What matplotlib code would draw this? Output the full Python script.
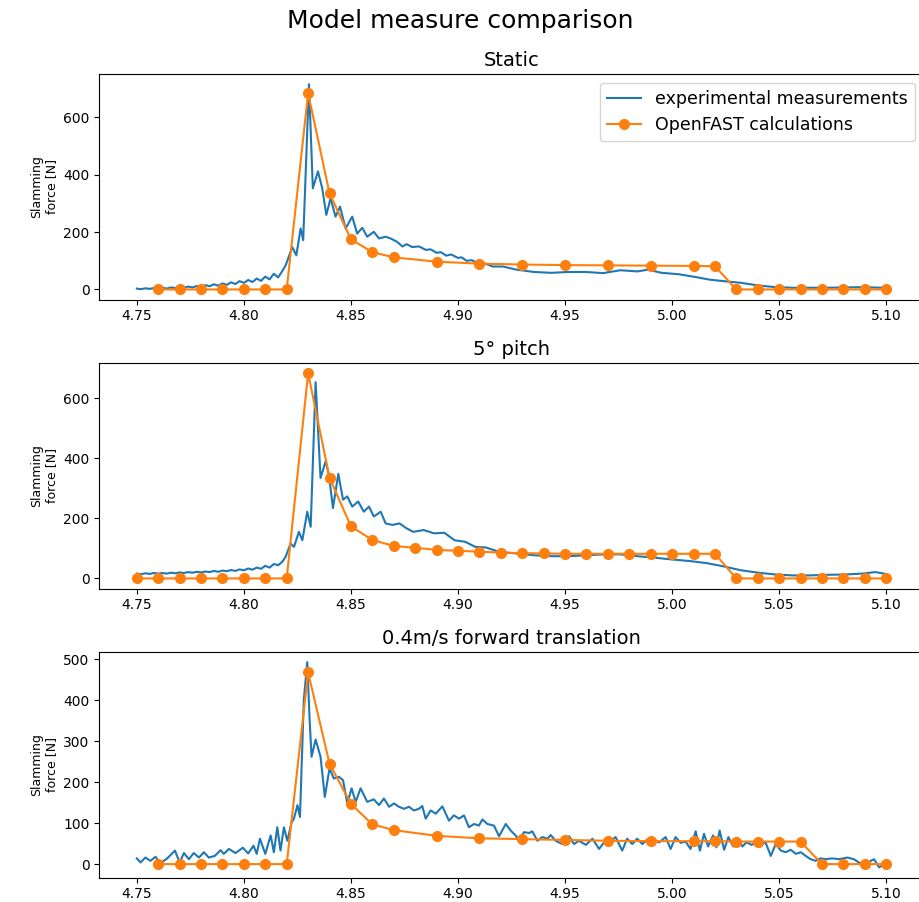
import matplotlib
matplotlib.use('Agg')
import matplotlib.pyplot as plt

# OpenFAST calculations (orange markers)
t_calc_static = [4.76, 4.77, 4.78, 4.79, 4.80, 4.81, 4.82, 4.83, 4.84, 4.85, 4.86, 4.87,
                 4.89, 4.91, 4.93, 4.95, 4.97, 4.99, 5.01, 5.02, 5.03, 5.04, 5.05, 5.06,
                 5.07, 5.08, 5.09, 5.10]
f_calc_static = [0, 0, 0, 0, 0, 0, 0, 685, 335, 175, 130, 112,
                 97, 90, 87, 85, 84, 83, 82, 81, 0, 0, 0, 0,
                 0, 0, 0, 0]

t_calc_pitch = [4.75, 4.76, 4.77, 4.78, 4.79, 4.80, 4.81, 4.82, 4.83, 4.84, 4.85, 4.86,
                4.87, 4.88, 4.89, 4.90, 4.91, 4.92, 4.93, 4.94, 4.95, 4.96, 4.97, 4.98,
                4.99, 5.00, 5.01, 5.02, 5.03, 5.04, 5.05, 5.06, 5.07, 5.08, 5.09, 5.10]
f_calc_pitch = [0, 0, 0, 0, 0, 0, 0, 0, 683, 335, 173, 128,
                108, 102, 95, 92, 89, 86, 84, 83, 82, 82, 82, 82,
                82, 82, 82, 82, 0, 0, 0, 0, 0, 0, 0, 0]

t_calc_fwd = [4.76, 4.77, 4.78, 4.79, 4.80, 4.81, 4.82, 4.83, 4.84, 4.85, 4.86, 4.87,
              4.89, 4.91, 4.93, 4.95, 4.97, 4.99, 5.01, 5.02, 5.03, 5.04, 5.05, 5.06,
              5.07, 5.08, 5.09, 5.10]
f_calc_fwd = [0, 0, 0, 0, 0, 0, 0, 468, 245, 147, 97, 83,
              69, 63, 61, 59, 57, 56, 56, 56, 55, 55, 55, 55,
              0, 0, 0, 0]

t_exp_static = [4.750, 4.752, 4.754, 4.756, 4.758, 4.760, 4.762, 4.764, 4.766, 4.768,
                4.770, 4.772, 4.774, 4.776, 4.778, 4.780, 4.782, 4.784, 4.786, 4.788,
                4.790, 4.792, 4.794, 4.796, 4.798, 4.800, 4.802, 4.804, 4.806, 4.808,
                4.810, 4.812, 4.814, 4.816, 4.818, 4.8195, 4.8226, 4.8245, 4.8265, 4.8277,
                4.8304, 4.8322, 4.8346, 4.8366, 4.8385, 4.8405, 4.8428, 4.8449, 4.8475, 4.8506,
                4.8529, 4.8553, 4.8576, 4.8607, 4.8631, 4.8662, 4.8685, 4.8716, 4.8740, 4.8760,
                4.8786, 4.8818, 4.8850, 4.8872, 4.8900, 4.8920, 4.8945, 4.8968, 4.9000, 4.9017,
                4.9040, 4.9065, 4.9090, 4.9113, 4.9162, 4.9210, 4.9274, 4.9355, 4.9436, 4.9516,
                4.9597, 4.9677, 4.9758, 4.9838, 4.9887, 4.9951, 5.0032, 5.0112, 5.0177, 5.0241,
                5.0322, 5.0402, 5.0483, 5.0564, 5.0725, 5.0886, 5.0983, 5.1000]
f_exp_static = [3, 1, 4, 2, 5, 3, 6, 3, 7, 5,
                9, 6, 10, 7, 12, 9, 15, 11, 18, 13,
                21, 16, 25, 19, 29, 23, 33, 26, 38, 30,
                45, 35, 55, 42, 65, 84, 148, 119, 213, 172,
                716, 353, 412, 353, 260, 318, 254, 289, 213, 254,
                195, 215, 184, 201, 178, 184, 178, 166, 150, 158,
                148, 150, 138, 140, 128, 130, 118, 122, 110, 112,
                100, 102, 92, 94, 80, 80, 69, 61, 58, 61,
                61, 57, 67, 63, 69, 58, 53, 43, 34, 29,
                23, 14, 8, 6, 6, 8, 6, 5]

t_exp_pitch = [4.750, 4.752, 4.754, 4.756, 4.758, 4.760, 4.762, 4.764, 4.766, 4.768,
               4.770, 4.772, 4.774, 4.776, 4.778, 4.780, 4.782, 4.784, 4.786, 4.788,
               4.790, 4.792, 4.794, 4.796, 4.798, 4.800, 4.802, 4.804, 4.806, 4.808,
               4.810, 4.812, 4.814, 4.816, 4.818, 4.8195, 4.8218, 4.8234, 4.8257, 4.8273,
               4.8296, 4.8312, 4.8335, 4.8358, 4.8382, 4.8397, 4.8416, 4.8441, 4.8463, 4.8483,
               4.8506, 4.8534, 4.8560, 4.8584, 4.8607, 4.8639, 4.8662, 4.8694, 4.8727, 4.8759,
               4.8791, 4.8840, 4.8888, 4.8936, 4.8984, 4.9033, 4.9081, 4.9130, 4.9194, 4.9274,
               4.9355, 4.9436, 4.9516, 4.9597, 4.9677, 4.9758, 4.9838, 4.9919, 5.0000, 5.0080,
               5.0161, 5.0241, 5.0322, 5.0402, 5.0483, 5.0564, 5.0644, 5.0725, 5.0805, 5.0886,
               5.0950, 5.0990]
f_exp_pitch = [16, 14, 17, 15, 18, 16, 18, 16, 19, 17,
               20, 18, 21, 19, 22, 20, 23, 21, 25, 22,
               26, 24, 28, 25, 30, 27, 33, 29, 36, 32,
               42, 36, 48, 44, 56, 72, 116, 105, 155, 127,
               222, 172, 653, 334, 390, 345, 234, 348, 262, 273,
               239, 256, 222, 239, 206, 222, 183, 178, 183, 167,
               155, 161, 150, 152, 127, 122, 105, 103, 88, 83,
               77, 74, 74, 77, 80, 80, 74, 69, 63, 58,
               51, 40, 27, 19, 13, 10, 10, 12, 13, 16,
               21, 16]

t_exp_fwd = [4.7500, 4.7517, 4.7540, 4.7564, 4.7587, 4.7610, 4.7642, 4.7678, 4.7700, 4.7720,
             4.7743, 4.7766, 4.7790, 4.7813, 4.7836, 4.7864, 4.7891, 4.7906, 4.7930, 4.7961,
             4.7995, 4.8020, 4.8045, 4.8060, 4.8075, 4.8100, 4.8125, 4.8140, 4.8156, 4.8171,
             4.8187, 4.8203, 4.8223, 4.8234, 4.8250, 4.8262, 4.8280, 4.8296, 4.8307, 4.8316,
             4.8335, 4.8358, 4.8378, 4.8400, 4.8420, 4.8444, 4.8463, 4.8483, 4.8503, 4.8522,
             4.8545, 4.8576, 4.8607, 4.8631, 4.8654, 4.8678, 4.8701, 4.8724, 4.8748, 4.8771,
             4.8794, 4.8818, 4.8833, 4.8849, 4.8872, 4.8896, 4.8927, 4.8958, 4.8981, 4.9005,
             4.9028, 4.9051, 4.9075, 4.9098, 4.9114, 4.9137, 4.9168, 4.9192, 4.9223, 4.9246,
             4.9269, 4.9285, 4.9308, 4.9332, 4.9347, 4.9371, 4.9394, 4.9418, 4.9433, 4.9456,
             4.9487, 4.9519, 4.9542, 4.9565, 4.9597, 4.9628, 4.9659, 4.9682, 4.9713, 4.9736,
             4.9767, 4.9790, 4.9814, 4.9837, 4.9861, 4.9884, 4.9908, 4.9939, 4.9970, 4.9993,
             5.0016, 5.0040, 5.0063, 5.0086, 5.0110, 5.0130, 5.0149, 5.0168, 5.0191, 5.0207,
             5.0222, 5.0243, 5.0263, 5.0285, 5.0307, 5.0328, 5.0347, 5.0372, 5.0391, 5.0414,
             5.0435, 5.0461, 5.0484, 5.0508, 5.0531, 5.0554, 5.0578, 5.0601, 5.0624, 5.0647,
             5.0671, 5.0694, 5.0717, 5.0748, 5.0779, 5.0818, 5.0849, 5.0872, 5.0904, 5.0928,
             5.0943, 5.0967, 5.0990]
f_exp_fwd = [14, 4, 16, 8, 18, 2, 14, 33, 4, 27,
             12, 27, 16, 29, 16, 20, 34, 25, 37, 27,
             40, 26, 45, 25, 62, 25, 70, 29, 90, 33,
             90, 57, 102, 111, 144, 115, 402, 493, 353, 262,
             304, 262, 164, 234, 209, 213, 205, 148, 185, 152,
             185, 152, 158, 144, 160, 140, 148, 140, 135, 140,
             131, 135, 142, 111, 131, 123, 141, 106, 119, 111,
             119, 90, 98, 94, 109, 98, 94, 68, 98, 82,
             70, 57, 78, 76, 80, 57, 66, 62, 71, 57,
             49, 68, 49, 57, 47, 62, 37, 53, 57, 66,
             33, 62, 49, 62, 49, 60, 62, 53, 66, 37,
             66, 52, 55, 37, 80, 33, 74, 43, 70, 41,
             82, 35, 66, 43, 63, 43, 53, 47, 53, 43,
             55, 20, 49, 33, 29, 35, 25, 29, 20, 12,
             8, 14, 12, 14, 12, 16, 12, 4, -4, 8,
             12, -8, 0]

panels = [
    ('Static', t_exp_static, f_exp_static, t_calc_static, f_calc_static, [0, 200, 400, 600]),
    ('5° pitch', t_exp_pitch, f_exp_pitch, t_calc_pitch, f_calc_pitch, [0, 200, 400, 600]),
    ('0.4m/s forward translation', t_exp_fwd, f_exp_fwd, t_calc_fwd, f_calc_fwd,
     [0, 100, 200, 300, 400, 500]),
]

fig, axes = plt.subplots(3, 1, figsize=(9.2, 9.02), dpi=100)
fig.subplots_adjust(left=0.108, right=1.004, top=0.918, bottom=0.027, hspace=0.28)
fig.suptitle('Model measure comparison', fontsize=18, y=0.99)

for i, (name, te, fe, tc, fc, yt) in enumerate(panels):
    ax = axes[i]
    ax.plot(te, fe, color='#1f77b4', lw=1.5, label='experimental measurements')
    ax.plot(tc, fc, color='#ff7f0e', marker='o', ms=7, lw=1.5, label='OpenFAST calculations')
    ax.set_title(name, fontsize=14)
    ax.set_ylabel('Slamming\nforce [N]', fontsize=9)
    ax.set_xticks([4.75, 4.80, 4.85, 4.90, 4.95, 5.00, 5.05, 5.10])
    ax.set_yticks(yt)
    if i == 0:
        ax.legend(loc='upper right', fontsize=12.5)

fig.savefig('out.png', dpi=100)
